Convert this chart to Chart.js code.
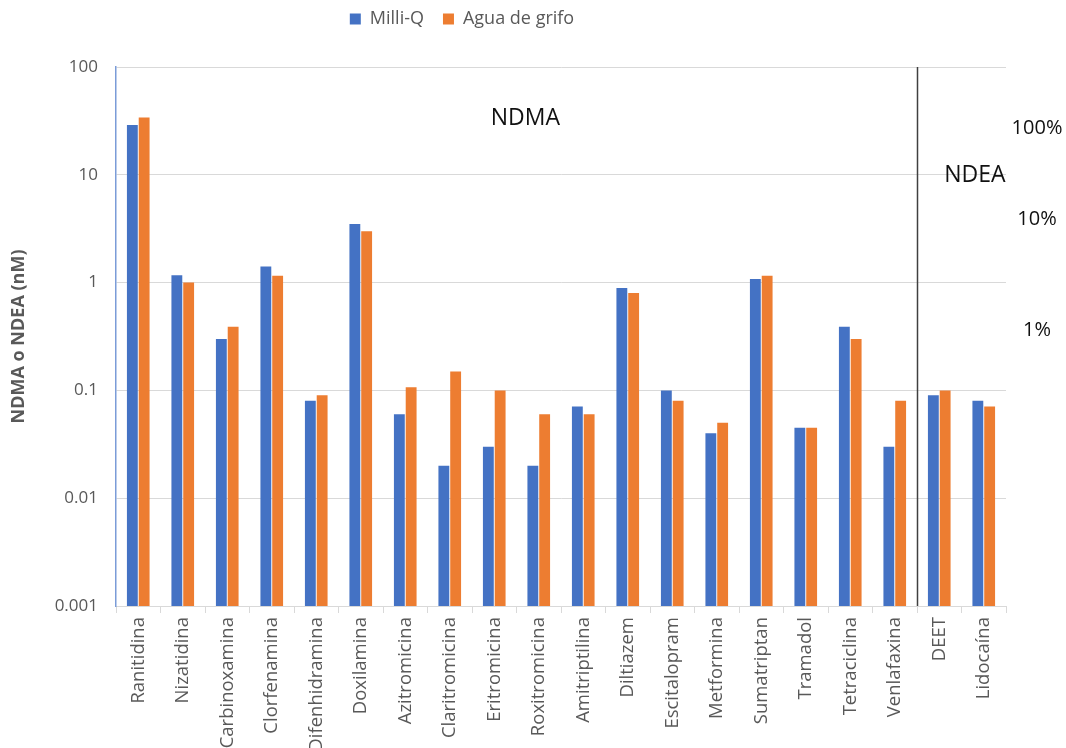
<!DOCTYPE html>
<html>
<head>
<meta charset="utf-8">
<script src="https://cdn.jsdelivr.net/npm/chart.js@4/dist/chart.umd.min.js"></script>
<style>
  html, body { margin: 0; padding: 0; background: #ffffff; }
  #wrap { width: 1066px; height: 748px; position: relative; }
</style>
</head>
<body>
<div id="wrap"><canvas id="chart"></canvas></div>
<script>
// Compounds tested (NDMA precursors first, then the NDEA precursors)
const compounds = ['Ranitidina', 'Nizatidina', 'Carbinoxamina', 'Clorfenamina', 'Difenhidramina',
  'Doxilamina', 'Azitromicina', 'Claritromicina', 'Eritromicina', 'Roxitromicina',
  'Amitriptilina', 'Diltiazem', 'Escitalopram', 'Metformina', 'Sumatriptan',
  'Tramadol', 'Tetraciclina', 'Venlafaxina', 'DEET', 'Lidocaína'];

// Nitrosamine formed (nM)
const milliQ    = [29, 1.17, 0.3, 1.41, 0.08, 3.5, 0.06, 0.02, 0.03, 0.02,
                   0.071, 0.89, 0.1, 0.04, 1.08, 0.045, 0.39, 0.03, 0.09, 0.08];
const aguaGrifo = [34, 1.0, 0.39, 1.16, 0.09, 3.0, 0.107, 0.15, 0.1, 0.06,
                   0.06, 0.8, 0.08, 0.05, 1.16, 0.045, 0.3, 0.08, 0.1, 0.071];

const seriesNames  = ['Milli-Q', 'Agua de grifo'];
const seriesColors = ['#4472C4', '#ED7D31'];

// Log axis decades
const yTicks = [0.001, 0.01, 0.1, 1, 10, 100];

// Group headings inside the plot (category position, value)
const groupLabels = ['NDMA', 'NDEA'];
const groupLabelX = [8.7, 18.8];
const groupLabelY = [33, 9.8];

// Conversion yield markers to the right of the plot (value)
const yieldLabels = ['100%', '10%', '1%'];
const yieldLabelY = [27, 3.9, 0.36];

// Boundary between NDMA and NDEA precursors (between categories)
const groupSplit = 17.5;

const FONT = "'Open Sans', 'DejaVu Sans', sans-serif";
const TEXT_GREY = '#595959';
const LEGEND_CENTER_X = 462;
const LEGEND_ROW_Y = 19;

const overlayPlugin = {
  id: 'overlay',
  afterLayout(chart) {
    // Legend row placement
    const lg = chart.legend;
    if (lg) {
      const w = lg.right - lg.left;
      lg.left = LEGEND_CENTER_X - w / 2;
      lg.right = LEGEND_CENTER_X + w / 2;
      const pad = lg.options.labels.padding;
      const itemH = Math.max(lg.options.labels.boxHeight, lg.options.labels.font.size);
      lg.top = LEGEND_ROW_Y - itemH / 2 - pad;
    }
  },
  afterDatasetsDraw(chart) {
    const { ctx, chartArea, scales: { x, y } } = chart;
    ctx.save();
    // Divider between NDMA and NDEA compounds
    const sx = Math.round(x.getPixelForValue(groupSplit)) + 0.5;
    ctx.strokeStyle = '#404040';
    ctx.lineWidth = 1.5;
    ctx.beginPath();
    ctx.moveTo(sx, chartArea.top);
    ctx.lineTo(sx, chartArea.bottom);
    ctx.stroke();

    ctx.fillStyle = '#111111';
    ctx.textBaseline = 'middle';
    ctx.textAlign = 'center';
    ctx.font = '23px ' + FONT;
    groupLabels.forEach((t, i) => {
      ctx.fillText(t, x.getPixelForValue(groupLabelX[i]), y.getPixelForValue(groupLabelY[i]));
    });
    ctx.font = '20px ' + FONT;
    yieldLabels.forEach((t, i) => {
      ctx.fillText(t, chartArea.right + 31, y.getPixelForValue(yieldLabelY[i]));
    });
    ctx.restore();
  }
};

new Chart(document.getElementById('chart'), {
  type: 'bar',
  data: {
    labels: compounds,
    datasets: [
      { label: seriesNames[0], data: milliQ, backgroundColor: seriesColors[0] },
      { label: seriesNames[1], data: aguaGrifo, backgroundColor: seriesColors[1] }
    ]
  },
  options: {
    responsive: true,
    maintainAspectRatio: false,
    animation: false,
    layout: { padding: { left: 0, right: 60, top: 20, bottom: 0 } },
    datasets: {
      bar: { categoryPercentage: 0.53, barPercentage: 0.92, borderWidth: 0 }
    },
    plugins: {
      tooltip: { enabled: false },
      legend: {
        position: 'top',
        labels: {
          font: { family: FONT, size: 18 },
          color: TEXT_GREY,
          boxWidth: 11,
          boxHeight: 11,
          padding: 19
        }
      }
    },
    scales: {
      x: {
        grid: {
          offset: true,
          drawOnChartArea: false,
          drawTicks: true,
          tickLength: 7,
          color: '#D9D9D9'
        },
        border: { color: '#D9D9D9', width: 1 },
        ticks: {
          autoSkip: false,
          minRotation: 90,
          maxRotation: 90,
          padding: 4,
          color: TEXT_GREY,
          font: { family: FONT, size: 18.5 }
        },
        afterFit(scale) { scale.height = 142; }
      },
      y: {
        type: 'logarithmic',
        min: 0.001,
        max: 100,
        afterBuildTicks(scale) { scale.ticks = yTicks.map(v => ({ value: v })); },
        grid: { color: '#D9D9D9', drawTicks: false },
        border: { color: '#7B9CD8', width: 1.5 },
        ticks: {
          padding: 18,
          color: TEXT_GREY,
          font: { family: FONT, size: 17 },
          callback: v => String(v)
        },
        title: {
          display: true,
          text: 'NDMA o NDEA (nM)',
          color: TEXT_GREY,
          font: { family: FONT, size: 18, weight: 'bold' },
          padding: { top: 8, bottom: 0 }
        },
        afterFit(scale) { scale.width = 116; }
      }
    }
  },
  plugins: [overlayPlugin]
});
</script>
</body>
</html>
